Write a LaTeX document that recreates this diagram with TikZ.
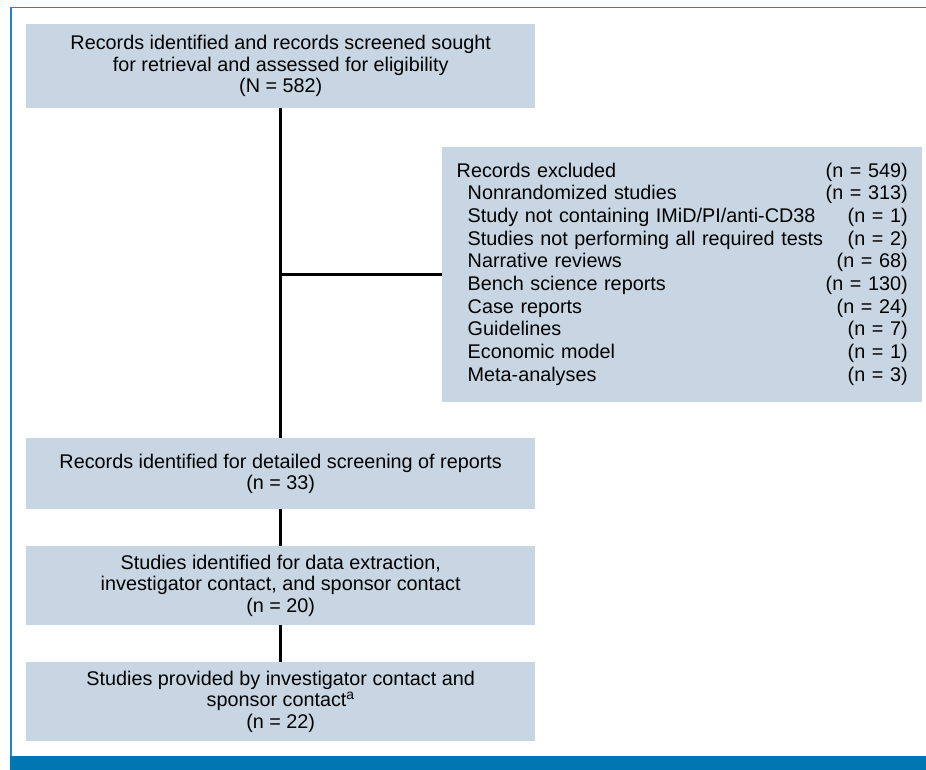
\documentclass[tikz,border=0pt]{standalone}
\usepackage{fontspec}
\setmainfont{Liberation Sans}
\usepackage{array}
\definecolor{boxfill}{RGB}{200,214,227}
\definecolor{frameblue}{RGB}{30,135,198}
\definecolor{barblue}{RGB}{0,119,179}
\begin{document}
\begin{tikzpicture}[x=1pt,y=-1pt,
  flowbox/.style={draw=none,fill=boxfill,anchor=north west,inner sep=0pt,
    minimum width=509pt,align=center,font=\fontsize{19.8}{21.5}\selectfont},
  link/.style={line width=2.6pt,black}]
\useasboundingbox (0,0) rectangle (926,770);
% frame
\fill[barblue] (10,756) rectangle (926,770);
\draw[frameblue,line width=1.6pt] (10.8,756) -- (10.8,7.6) -- (926,7.6);
% boxes
\node[flowbox,minimum height=84pt] (b1) at (26,24)
  {Records identified and records screened sought\\for retrieval and assessed for eligibility\\(N = 582)};
\node[flowbox,minimum height=255pt,minimum width=480pt,text width=451pt,align=left,
  inner xsep=14.5pt,inner ysep=0pt,font=\fontsize{19.8}{22.7}\selectfont] (excl) at (442,147)
  {\begin{tabular*}{451pt}{@{}l@{\extracolsep{\fill}}r@{}}
   Records excluded & (n = 549)\\
   \hspace{11pt}Nonrandomized studies & (n = 313)\\
   \hspace{11pt}Study not containing IMiD/PI/anti-CD38 & (n = 1)\\
   \hspace{11pt}Studies not performing all required tests & (n = 2)\\
   \hspace{11pt}Narrative reviews & (n = 68)\\
   \hspace{11pt}Bench science reports & (n = 130)\\
   \hspace{11pt}Case reports & (n = 24)\\
   \hspace{11pt}Guidelines & (n = 7)\\
   \hspace{11pt}Economic model & (n = 1)\\
   \hspace{11pt}Meta-analyses & (n = 3)
   \end{tabular*}};
\node[flowbox,minimum height=71pt] (b2) at (26,438)
  {Records identified for detailed screening of reports\\(n = 33)};
\node[flowbox,minimum height=79pt] (b3) at (26,546)
  {Studies identified for data extraction,\\investigator contact, and sponsor contact\\(n = 20)};
\node[flowbox,minimum height=79pt] (b4) at (26,662)
  {Studies provided by investigator contact and\\sponsor contact\textsuperscript{a}\\(n = 22)};
% connectors
\draw[link] (b1.south) -- (b2.north);
\draw[link] (excl.west -| b1.south) -- (excl.west);
\draw[link] (b2.south) -- (b3.north);
\draw[link] (b3.south) -- (b4.north);
\end{tikzpicture}
\end{document}
